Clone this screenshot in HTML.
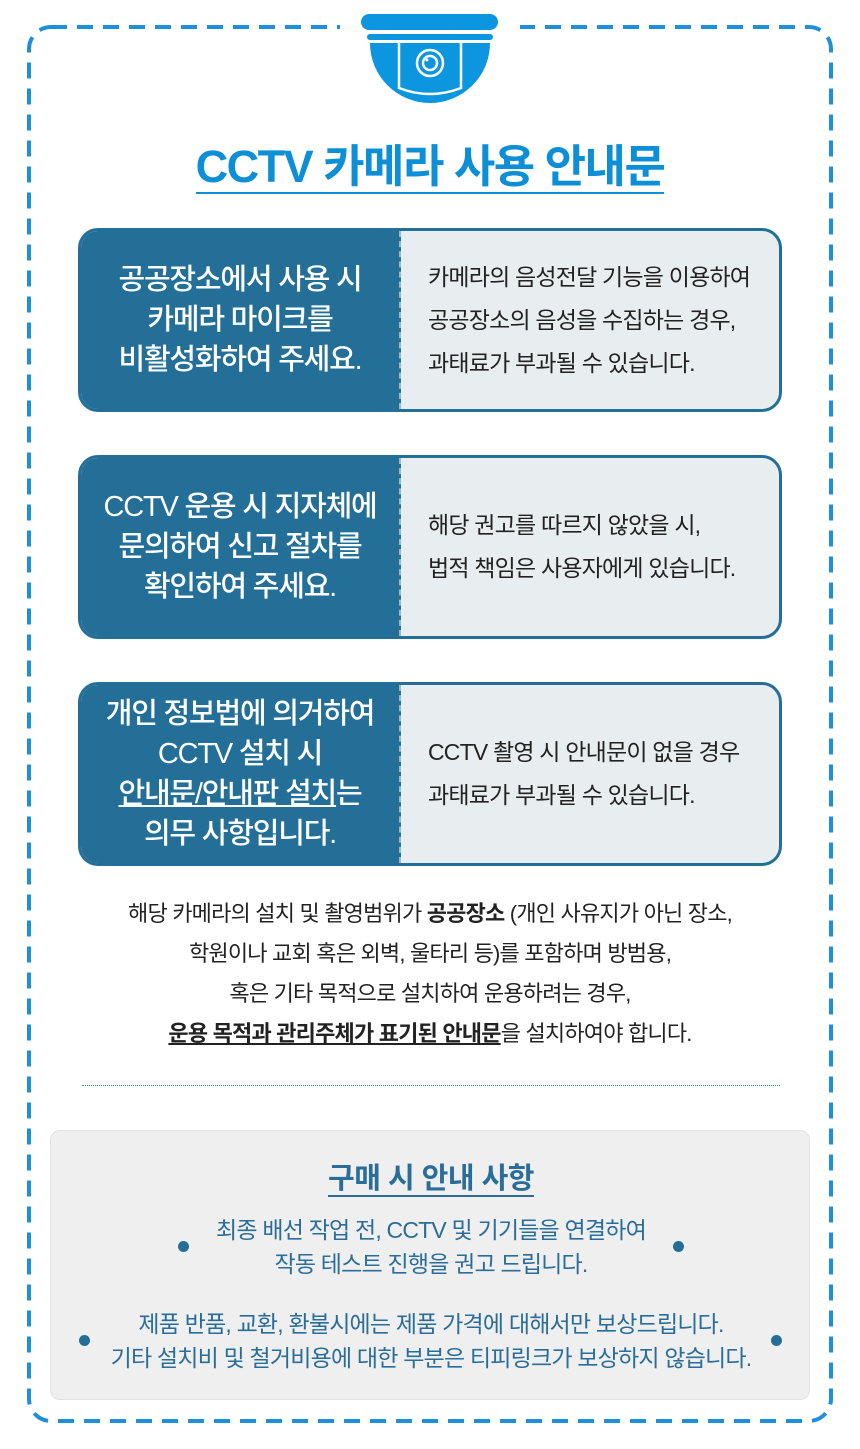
<!DOCTYPE html>
<html><head><meta charset="utf-8"><style>
*{margin:0;padding:0;box-sizing:border-box}
body{width:860px;height:1449px;background:#fff;font-family:"Liberation Sans","Noto Sans CJK KR",sans-serif;position:relative;overflow:hidden}
.title{position:absolute;left:0;width:860px;top:130px;text-align:center;font-size:45px;font-weight:bold;color:#0d8fd8;letter-spacing:-1.5px}
.title span{border-bottom:2px solid #0d8fd8;padding-bottom:0px}
.card{position:absolute;left:78px;width:704px;height:184px;border:3px solid #236f98;border-radius:20px;overflow:hidden;background:#e8eef0}
.card .l{position:absolute;left:0;top:0;width:320px;height:100%;background:#236f98;color:#fff;font-size:29px;line-height:40px;display:flex;align-items:center;justify-content:center;text-align:center;letter-spacing:-1.2px;border-right:2px dashed #9fb8c8;font-weight:500}
.card .r{position:absolute;left:347px;top:0;right:0;height:100%;display:flex;align-items:center;font-size:23px;line-height:43px;color:#222;letter-spacing:-0.8px;white-space:nowrap}
.note{position:absolute;left:0;width:860px;top:894px;text-align:center;font-size:22px;line-height:40px;color:#222;letter-spacing:-0.8px}
.dots{position:absolute;left:82px;width:698px;top:1085px;border-top:1px dotted #1e8fdc}
.gray{position:absolute;left:50px;top:1130px;width:760px;height:270px;background:#efefef;border:1px solid #e2e2e2;border-radius:10px}
.gt{position:absolute;left:0;width:760px;top:24px;text-align:center;font-size:29px;font-weight:bold;color:#2a6d98;letter-spacing:-0.5px}
.gt span{border-bottom:2px solid #2a6d98}
.gp{position:absolute;left:0;width:760px;text-align:center;font-size:23px;line-height:34px;color:#2a6d98;letter-spacing:-0.8px;white-space:nowrap}
.dot{position:absolute;width:11px;height:11px;border-radius:50%;background:#246f98}
</style></head><body>
<svg style="position:absolute;left:0;top:0" width="860" height="1449">
<rect x="29" y="27" width="802" height="1394" rx="22" fill="none" stroke="#1e8fdc" stroke-width="4" stroke-dasharray="16 10"/>
</svg>
<div style="position:absolute;left:340px;top:18px;width:180px;height:12px;background:#fff"></div>
<svg style="position:absolute;left:355px;top:10px" width="150" height="100" viewBox="355 10 150 100">
<rect x="361" y="14" width="137" height="16" rx="8" fill="#0d96e0"/>
<rect x="367" y="34" width="126" height="6" rx="3" fill="#0d96e0"/>
<path d="M370 43 H490 A60 60 0 0 1 370 43 Z" fill="#0d96e0"/>
<path d="M399 43 V88 Q430 100 461 88 V43" fill="none" stroke="#fff" stroke-width="2.5"/>
<circle cx="430" cy="63" r="13" fill="none" stroke="#fff" stroke-width="2.5"/>
<circle cx="430" cy="63" r="7" fill="none" stroke="#fff" stroke-width="2.5"/>
<circle cx="427" cy="60" r="1.5" fill="#fff"/>
</svg>
<div class="title"><span>CCTV 카메라 사용 안내문</span></div>

<div class="card" style="top:228px"><div class="l"><div>공공장소에서 사용 시<br>카메라 마이크를<br>비활성화하여 주세요.</div></div><div class="r"><div>카메라의 음성전달 기능을 이용하여<br>공공장소의 음성을 수집하는 경우,<br>과태료가 부과될 수 있습니다.</div></div></div>
<div class="card" style="top:455px"><div class="l"><div>CCTV 운용 시 지자체에<br>문의하여 신고 절차를<br>확인하여 주세요.</div></div><div class="r"><div>해당 권고를 따르지 않았을 시,<br>법적 책임은 사용자에게 있습니다.</div></div></div>
<div class="card" style="top:682px"><div class="l"><div>개인 정보법에 의거하여<br>CCTV 설치 시<br><u>안내문/안내판 설치</u>는<br>의무 사항입니다.</div></div><div class="r"><div>CCTV 촬영 시 안내문이 없을 경우<br>과태료가 부과될 수 있습니다.</div></div></div>

<div class="note">해당 카메라의 설치 및 촬영범위가 <b>공공장소</b> (개인 사유지가 아닌 장소,<br>학원이나 교회 혹은 외벽, 울타리 등)를 포함하며 방범용,<br>혹은 기타 목적으로 설치하여 운용하려는 경우,<br><b><u>운용 목적과 관리주체가 표기된 안내문</u></b>을 설치하여야 합니다.</div>
<div class="dots"></div>

<div class="gray">
<div class="gt"><span>구매 시 안내 사항</span></div>
<div class="gp" style="top:82px">최종 배선 작업 전, CCTV 및 기기들을 연결하여<br>작동 테스트 진행을 권고 드립니다.</div>
<div class="gp" style="top:176px">제품 반품, 교환, 환불시에는 제품 가격에 대해서만 보상드립니다.<br>기타 설치비 및 철거비용에 대한 부분은 티피링크가 보상하지 않습니다.</div>
<div class="dot" style="left:127px;top:110px"></div>
<div class="dot" style="left:622px;top:110px"></div>
<div class="dot" style="left:28px;top:204px"></div>
<div class="dot" style="left:720px;top:204px"></div>
</div>
</body></html>
